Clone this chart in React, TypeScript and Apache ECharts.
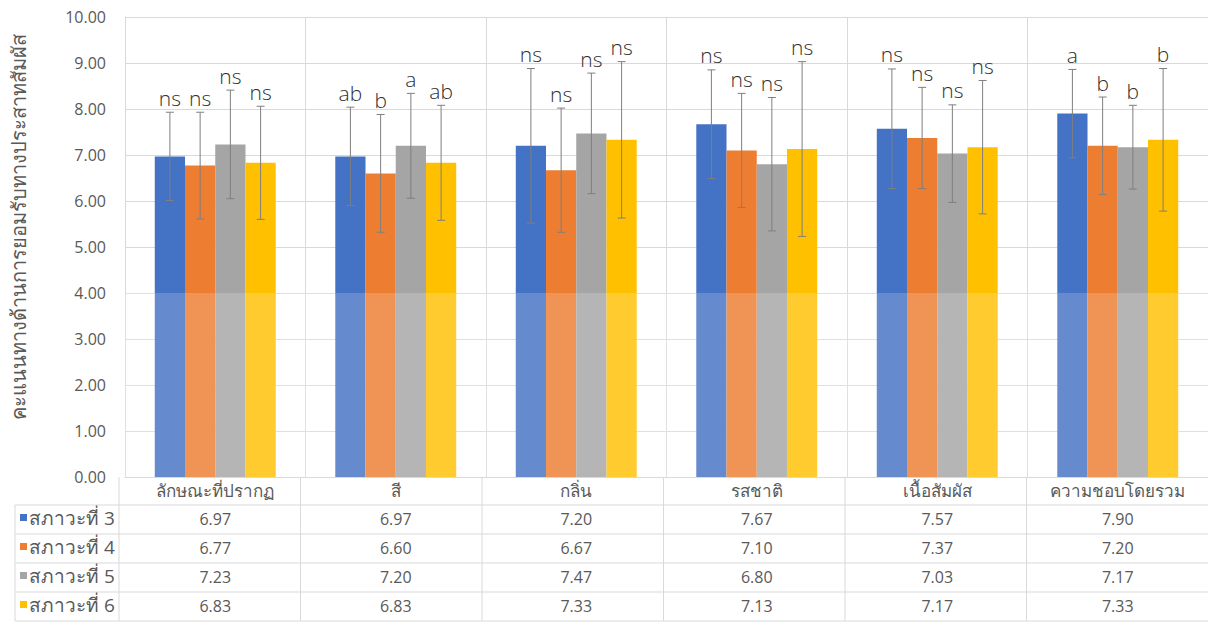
import React, { useEffect, useRef } from "react";
import * as echarts from "echarts";

const categories = ["ลักษณะที่ปรากฏ", "สี", "กลิ่น", "รสชาติ", "เนื้อสัมผัส", "ความชอบโดยรวม"];
const seriesNames = ["สภาวะที่ 3", "สภาวะที่ 4", "สภาวะที่ 5", "สภาวะที่ 6"];
const s3 = [6.97, 6.97, 7.2, 7.67, 7.57, 7.9];
const s4 = [6.77, 6.6, 6.67, 7.1, 7.37, 7.2];
const s5 = [7.23, 7.2, 7.47, 6.8, 7.03, 7.17];
const s6 = [6.83, 6.83, 7.33, 7.13, 7.17, 7.33];
const sd3 = [0.96, 1.07, 1.68, 1.18, 1.3, 0.96];
const sd4 = [1.16, 1.28, 1.35, 1.24, 1.1, 1.06];
const sd5 = [1.18, 1.14, 1.31, 1.45, 1.06, 0.91];
const sd6 = [1.23, 1.25, 1.7, 1.9, 1.45, 1.55];
const letters3 = ["ns", "ab", "ns", "ns", "ns", "a"];
const letters4 = ["ns", "b", "ns", "ns", "ns", "b"];
const letters5 = ["ns", "a", "ns", "ns", "ns", "b"];
const letters6 = ["ns", "ab", "ns", "ns", "ns", "b"];
const yTicks = [0, 1, 2, 3, 4, 5, 6, 7, 8, 9, 10];
const yTitle = "คะแนนทางด้านการยอมรับทางประสาทสัมผัส";

const means = [s3, s4, s5, s6];
const sds = [sd3, sd4, sd5, sd6];
const letters = [letters3, letters4, letters5, letters6];
const colors = ["#4472C4", "#ED7D31", "#A5A5A5", "#FFC000"];

const FONT = "'Open Sans', 'Noto Sans', sans-serif";
const W = 1208;
const H = 624;
const G_LEFT = 119;
const G_TOP = 17;
const G_BOTTOM = 147;
const G_RIGHT = 0;
const CAT_GAP = 0.33;
const ROW_CENTERS = [519, 548, 577, 606];
const ROW_LINES = [505, 534, 563, 592, 621];
const TABLE_LEFT = 15;
const TEXT = "#595959";
const LINE = "#D9D9D9";

export default function App() {
  const ref = useRef<HTMLDivElement>(null);
  useEffect(() => {
    if (!ref.current) return;
    const chart = echarts.init(ref.current, null, { renderer: "svg" });
    const plotW = W - G_LEFT - G_RIGHT;
    const plotBottom = H - G_BOTTOM;
    const plotH = plotBottom - G_TOP;
    const yMax = yTicks[yTicks.length - 1];
    const catW = plotW / categories.length;

    const barSeries = seriesNames.map((name, k) => ({
      name,
      type: "bar",
      data: means[k],
      barGap: "0%",
      barCategoryGap: CAT_GAP * 100 + "%",
      itemStyle: { color: colors[k] },
      z: 2,
    }));

    const errSeries = seriesNames.map((name, k) => ({
      name: name + "_err",
      type: "custom",
      z: 3,
      silent: true,
      encode: { x: 0, y: 1 },
      data: means[k].map((m, i) => [i, m, sds[k][i]]),
      renderItem: (params: any, api: any) => {
        const idx = api.value(0);
        const m = api.value(1);
        const sd = api.value(2);
        const c = api.coord([idx, m]);
        const band = api.size([1, 0])[0];
        const bw = (band * (1 - CAT_GAP)) / 4;
        const x = c[0] + (k - 1.5) * bw;
        const top = api.coord([idx, m + sd])[1];
        const bot = api.coord([idx, m - sd])[1];
        const cap = 4;
        const st = { stroke: "#7F7F7F", lineWidth: 1 };
        return {
          type: "group",
          children: [
            { type: "line", shape: { x1: x, y1: top, x2: x, y2: bot }, style: st },
            { type: "line", shape: { x1: x - cap, y1: top, x2: x + cap, y2: top }, style: st },
            { type: "line", shape: { x1: x - cap, y1: bot, x2: x + cap, y2: bot }, style: st },
            {
              type: "text",
              x: x,
              y: top - 4,
              style: {
                text: letters[k][params.dataIndex],
                fill: "#303030",
                fontSize: 21,
                fontWeight: 300,
                fontFamily: FONT,
                align: "center",
                verticalAlign: "bottom",
              },
            },
          ],
        };
      },
    }));

    const valueAxes = means.map((arr, k) => ({
      type: "category",
      gridIndex: 0,
      position: "bottom",
      offset: ROW_CENTERS[k] - 491,
      data: arr.map((v) => v.toFixed(2)),
      axisLine: { show: false },
      axisTick: { show: false },
      splitLine: { show: false },
      axisLabel: { interval: 0, margin: 6, fontSize: 16, color: TEXT, fontFamily: FONT },
    }));

    const graphics: any[] = [];
    ROW_LINES.forEach((y) => {
      graphics.push({
        type: "line",
        shape: { x1: TABLE_LEFT, y1: y, x2: W, y2: y },
        style: { stroke: LINE, lineWidth: 1 },
        silent: true,
      });
    });
    graphics.push({
      type: "line",
      shape: { x1: TABLE_LEFT, y1: ROW_LINES[0], x2: TABLE_LEFT, y2: ROW_LINES[ROW_LINES.length - 1] },
      style: { stroke: LINE, lineWidth: 1 },
      silent: true,
    });
    for (let i = 0; i < categories.length; i++) {
      const x = G_LEFT + i * catW;
      graphics.push({
        type: "line",
        shape: { x1: x, y1: plotBottom, x2: x, y2: ROW_LINES[ROW_LINES.length - 1] },
        style: { stroke: LINE, lineWidth: 1 },
        silent: true,
      });
    }
    const y4 = G_TOP + ((yMax - 4) / yMax) * plotH;
    graphics.push({
      type: "rect",
      shape: { x: G_LEFT + 1, y: y4, width: plotW - 1, height: plotBottom - y4 },
      style: { fill: "rgba(255,255,255,0.18)" },
      z: 100,
      silent: true,
    });

    chart.setOption({
      animation: false,
      textStyle: { fontFamily: FONT },
      grid: { left: G_LEFT, right: G_RIGHT, top: G_TOP, bottom: G_BOTTOM, containLabel: false },
      legend: seriesNames.map((name, k) => ({
        data: [name],
        left: 20,
        top: ROW_CENTERS[k] - 11,
        padding: 0,
        icon: "rect",
        itemWidth: 7,
        itemHeight: 7,
        selectedMode: false,
        textStyle: { fontSize: 19, color: TEXT, fontFamily: FONT, padding: [0, 0, 0, -3] },
      })),
      xAxis: [
        {
          type: "category",
          data: categories,
          axisLine: { show: true, lineStyle: { color: LINE } },
          axisTick: { show: false },
          splitLine: { show: true, interval: 0, lineStyle: { color: LINE } },
          axisLabel: { interval: 0, margin: 5, fontSize: 17, color: TEXT, fontFamily: FONT },
        },
        ...valueAxes,
      ],
      yAxis: {
        type: "value",
        min: 0,
        max: yMax,
        interval: 1,
        name: yTitle,
        nameLocation: "middle",
        nameGap: 97,
        nameTextStyle: { fontSize: 20, color: TEXT, fontFamily: FONT, padding: [0, 0, 0, 40] },
        axisLine: { show: true, lineStyle: { color: LINE } },
        axisTick: { show: false },
        splitLine: { show: true, lineStyle: { color: LINE } },
        axisLabel: {
          margin: 19,
          fontSize: 16,
          color: TEXT,
          fontFamily: FONT,
          formatter: (v: number) => v.toFixed(2),
        },
      },
      graphic: graphics,
      series: [...barSeries, ...errSeries],
    });
    return () => chart.dispose();
  }, []);
  return (
    <div
      ref={ref}
      style={{ position: "absolute", left: 0, top: 0, width: W, height: H, background: "#fff" }}
    />
  );
}
